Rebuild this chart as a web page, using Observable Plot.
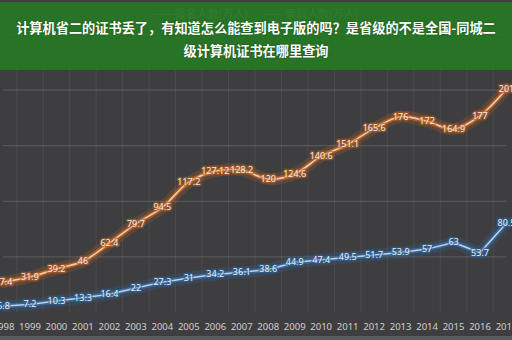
<!DOCTYPE html>
<html>
<head>
<meta charset="utf-8">
<script src="https://cdn.jsdelivr.net/npm/d3@7"></script>
<script src="https://cdn.jsdelivr.net/npm/@observablehq/plot@0.6"></script>
<style>
  html, body { margin: 0; padding: 0; }
  body { width: 512px; height: 340px; overflow: hidden; background: #3e3e40; position: relative; font-family: "Noto Sans CJK SC", "Noto Sans", sans-serif; }
  #chart { position: absolute; left: 0; top: 0; }
  #legend { position: absolute; top: 5px; left: 0; width: 512px; text-align: center; font-size: 11px; color: #9a9a9a; white-space: nowrap; }
  #legend span { margin: 0 8px; }
  #banner { position: absolute; left: 0; top: 2px; width: 512px; height: 68px; background: rgba(38,122,36,0.9); }
  #title { position: absolute; left: 0; top: 16px; width: 512px; text-align: center; color: #fff; font-weight: bold; font-size: 13.2px; line-height: 23px; text-shadow: 0 0 2px rgba(0,0,0,0.35); white-space: nowrap; }
  #bottom { position: absolute; left: 0; top: 336px; width: 512px; height: 4px; background: #5a5a5c; }
</style>
</head>
<body>
<div id="chart"></div>
<div id="legend"><span>—— 报名人数(万人)</span><span>—— 录取人数(万人)</span></div>
<div id="banner"></div>
<div id="title">计算机省二的证书丢了，有知道怎么能查到电子版的吗？是省级的不是全国-同城二<br>级计算机证书在哪里查询</div>
<div id="bottom"></div>
<script>
const years = [1998,1999,2000,2001,2002,2003,2004,2005,2006,2007,2008,2009,2010,2011,2012,2013,2014,2015,2016,2017];
const applicants = [27.4,31.9,39.2,46,62.4,79.7,94.5,117.2,127.12,128.2,120,124.6,140.6,151.1,165.6,176,172,164.9,177,201];
const admitted = [5.8,7.2,10.3,13.3,16.4,22,27.3,31,34.2,36.1,38.6,44.9,47.4,49.5,51.7,53.9,57,63,53.7,80.5];
const gridValues = [50,100,150,200,250];

const A = years.map((y,i)=>({year:y, v:applicants[i]}));
const B = years.map((y,i)=>({year:y, v:admitted[i]}));
const bounds = years.slice(0,-1).map(y=>y+0.5);

const plot = Plot.plot({
  width: 512, height: 340,
  marginLeft: 3, marginRight: 6, marginTop: 34, marginBottom: 28,
  style: {background: "transparent", color: "#c8c8c8", fontFamily: "Noto Sans, sans-serif", fontSize: "9.5px"},
  x: {type: "linear", domain: [1998, 2017], label: null},
  y: {domain: [0, 250], axis: null},
  marks: [
    Plot.ruleY(gridValues, {stroke: "#ffffff", strokeOpacity: 0.16}),
    Plot.ruleX(bounds, {stroke: "#ffffff", strokeOpacity: 0.07}),
    Plot.axisX({ticks: years, tickFormat: d => String(d), tickSize: 0, tickPadding: 11, fill: "#cfcfcf", label: null}),
    // orange glow
    Plot.line(A, {x: "year", y: "v", stroke: "#c8621f", strokeWidth: 12, strokeOpacity: 0.22, curve: "catmull-rom"}),
    Plot.line(A, {x: "year", y: "v", stroke: "#d9702a", strokeWidth: 5, strokeOpacity: 0.55, curve: "catmull-rom"}),
    Plot.line(A, {x: "year", y: "v", stroke: "#f8caa0", strokeWidth: 1.6, curve: "catmull-rom"}),
    // blue glow
    Plot.line(B, {x: "year", y: "v", stroke: "#2f6aa8", strokeWidth: 12, strokeOpacity: 0.22}),
    Plot.line(B, {x: "year", y: "v", stroke: "#3f7cc0", strokeWidth: 5, strokeOpacity: 0.5}),
    Plot.line(B, {x: "year", y: "v", stroke: "#b8d6f2", strokeWidth: 1.5}),
    Plot.text(A, {x: "year", y: "v", text: d => String(d.v), fill: "#eeeeee", stroke: "#b45a1e", strokeOpacity: 0.6, strokeWidth: 3, fontSize: 9}),
    Plot.text(B, {x: "year", y: "v", text: d => String(d.v), fill: "#eeeeee", stroke: "#2c5f96", strokeOpacity: 0.6, strokeWidth: 3, fontSize: 9})
  ]
});
document.getElementById("chart").appendChild(plot);
</script>
</body>
</html>
